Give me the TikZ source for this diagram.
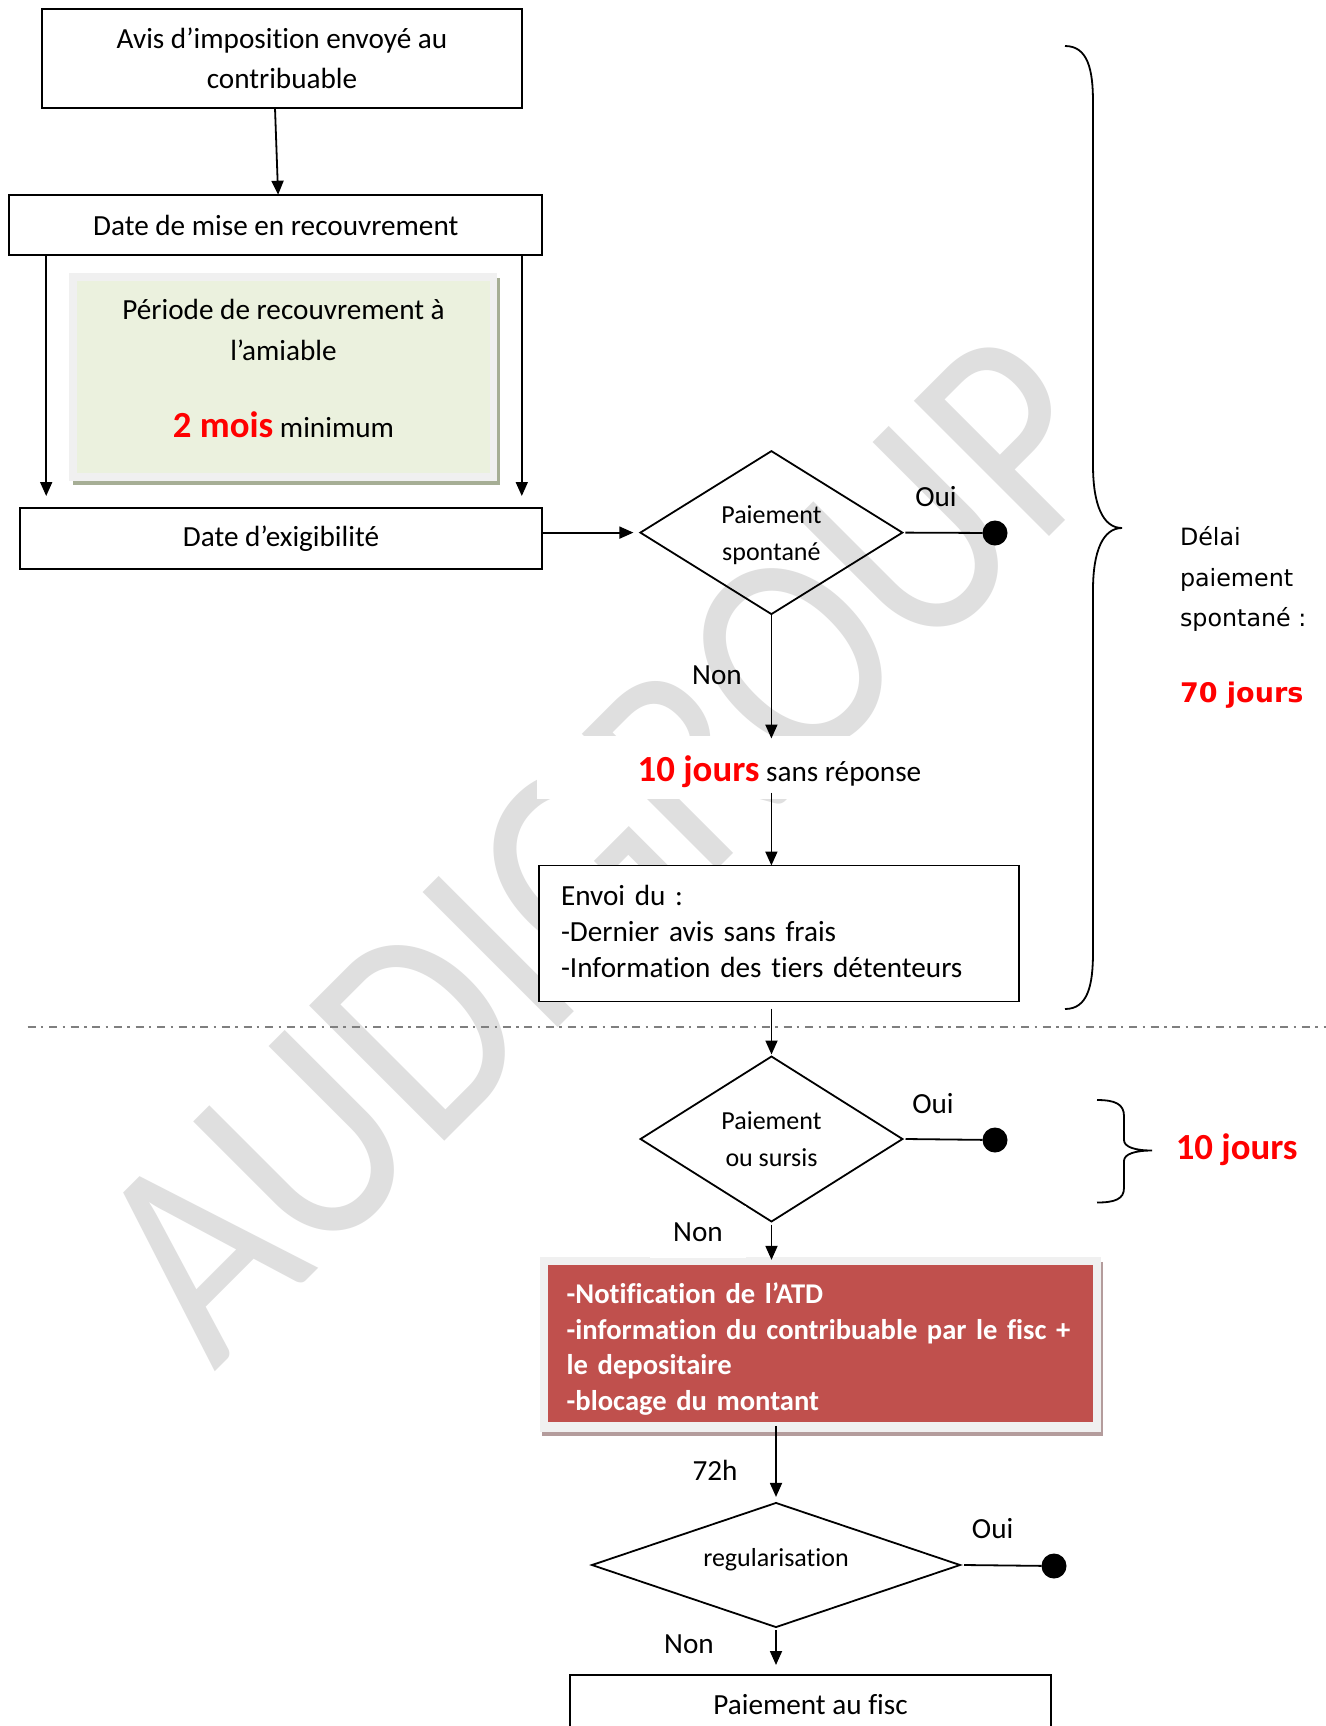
\documentclass[tikz,border=0pt]{standalone}
\usepackage{fontspec}
\setmainfont{Carlito}[Ligatures=NoCommon]
\newfontfamily\verd{DejaVu Sans}
\usetikzlibrary{arrows.meta,shapes.geometric}
\definecolor{wmgray}{HTML}{DFDFDF}
\definecolor{greenfill}{HTML}{EBF1DE}
\definecolor{greenshadow}{HTML}{A6AE95}
\definecolor{framegray}{HTML}{F0F0F0}
\definecolor{redfill}{HTML}{C0504D}
\definecolor{redshadow}{HTML}{B49C9C}
\definecolor{dashgray}{HTML}{7F7F7F}
\begin{document}
\begin{tikzpicture}[x=0.5pt,y=-0.5pt,
  every node/.style={font=\fontsize{14.6}{19.8}\selectfont, inner sep=0pt, outer sep=0pt},
  box/.style={draw, line width=0.9pt, fill=white, align=center},
  arr/.style={line width=0.9pt, -{Triangle[width=6pt,length=7pt]}},
  link/.style={line width=0.9pt},
  decision/.style={draw, line width=0.9pt, diamond, aspect=1.6, align=center,
    font=\fontsize{13}{18.5}\selectfont},
  enddot/.style={circle, fill=black, minimum size=12.5pt},
  lbl/.style={fill=white, minimum width=48pt, minimum height=26pt},
  redtxt/.style={text=red, font=\bfseries\fontsize{18.4}{22}\selectfont},
  brace/.style={line width=0.9pt}
]
\useasboundingbox (0,0) rectangle (1326,1726);
\clip (0,0) rectangle (1326,1726);
\fill[white] (0,0) rectangle (1326,1726);

% watermark
\node[anchor=base west, rotate=45, xscale=0.86, text=wmgray,
  font=\fontsize{149}{149}\selectfont] (wm) at (214,1372) {AUDIGROUP};

% top part
\node[box, minimum width=240pt, minimum height=49.5pt] (b1) at (282,58.5)
  {Avis d’imposition envoyé au\\contribuable};
\node[box, minimum width=266.5pt, minimum height=30.25pt] (b2) at (275.7,225)
  {Date de mise en recouvrement};

% green period box
\fill[greenshadow] (73,278) rectangle (500,485);
\fill[framegray] (69,273) rectangle (497,481);
\node[fill=greenfill, minimum width=206.5pt, minimum height=96pt] (amiable) at (283.5,377) {};
\node[align=center, font=\fontsize{14.6}{20.5}\selectfont] (amiabletxt) at (283.5,368)
  {Période de recouvrement à\\l’amiable\\[18pt]{\color{red}\bfseries\fontsize{18.4}{22}\selectfont 2 mois} minimum};

\node[box, minimum width=261pt, minimum height=30.5pt] (b3) at (281,538.5)
  {Date d’exigibilité};

\draw[arr] ([xshift=-3.5pt]b1.south) -- ([xshift=1.2pt]b2.north);
\coordinate (l1) at ([xshift=18.5pt]b2.south west);
\coordinate (r1) at ([xshift=-10.2pt]b2.south east);
\draw[arr] (l1) -- ([yshift=6pt]l1 |- b3.north);
\draw[arr] (r1) -- ([yshift=6pt]r1 |- b3.north);

% decision 1
\node[decision, text depth=0pt, minimum width=131pt, minimum height=81.5pt] (d1) at (771.4,532.6)
  {Paiement\\spontané};
\draw[arr] (b3.east |- d1.west) -- ([xshift=-3.5pt]d1.west);
\node[enddot] (e1) at (995,533) {};
\draw[link] ([xshift=1.5pt]d1.east) -- (e1);
\node (oui1) at (936,497) {Oui};
\node (non1) at (717,675) {Non};

\node[fill=white, minimum width=242.5pt, text height=23pt, text depth=8.5pt] (j10) at (779.5,767)
  {{\color{red}\bfseries\fontsize{18.4}{22}\selectfont 10 jours} sans réponse};
\draw[arr] (d1.south) -- ([yshift=-1.5pt]d1.south |- j10.north);

\node[box, minimum width=240pt, minimum height=68pt, text width=218pt, inner xsep=11pt,
  align=left, font=\fontsize{14.6}{18}\selectfont] (b4) at (779,933.5)
  {Envoi du :\\-Dernier avis sans frais\\-Information des tiers détenteurs\rule[-2.5pt]{0pt}{0pt}};
\draw[arr] ([yshift=3pt]d1.south |- j10.south) -- (d1.south |- b4.north);

% separator
\coordinate (sepL) at (27.5,1027);
\coordinate (sepR) at (1326,1027);
\draw[dashgray, line width=1pt, dash pattern=on 4pt off 2.7pt on 1.2pt off 2.9pt] (sepL) -- (sepR);

% decision 2
\node[decision, minimum width=131pt, minimum height=82.5pt] (d2) at (771.5,1139)
  {Paiement\\ou sursis};
\draw[arr] ([yshift=-3.5pt]d2.north |- b4.south) -- ([yshift=1pt]d2.north);
\node[enddot] (e2) at (995,1140) {};
\draw[link] ([xshift=1.5pt]d2.east) -- (e2);
\node (oui2) at (933,1104) {Oui};

% red ATD box
\fill[redshadow] (542,1262) rectangle (1103,1436);
\fill[framegray] (540,1257) rectangle (1101,1432);
\node[fill=redfill, minimum width=272.5pt, minimum height=78.25pt, text width=253.8pt,
  inner xsep=9.35pt, align=left, text=white,
  font=\bfseries\fontsize{14.3}{17.8}\selectfont] (atd) at (820.5,1343.6)
  {\rule{0pt}{15.7pt}\mbox{-Notification de l’ATD}\\\mbox{-information du contribuable par le fisc +}\\\mbox{le depositaire}\\\mbox{-blocage du montant}};
\node[lbl] (non2) at (698,1232) {Non};
\draw[arr] ([yshift=-1.5pt]d2.south) -- ([yshift=2.75pt]d2.south |- atd.north);

% decision 3
\node[decision, text depth=7.6pt, minimum width=184pt, minimum height=60pt] (d3) at (776,1565)
  {regularisation};
\draw[arr] ([yshift=-2pt]d3.north |- atd.south) -- ([yshift=3pt]d3.north);
\node (h72) at (715,1470) {72h};
\node[enddot] (e3) at (1054,1566) {};
\draw[link] ([xshift=2pt]d3.east) -- (e3);
\node (oui3) at (992.6,1528.5) {Oui};

\node[box, minimum width=240.5pt, minimum height=29.5pt] (b5) at (810.5,1704.5)
  {Paiement au fisc};
\node[lbl] (non3) at (689,1644) {Non};
\draw[arr] ([yshift=-1.5pt]d3.south) -- ([yshift=5pt]d3.south |- b5.north);

% big brace
\draw[brace] (1065,46) .. controls (1088,46) and (1093,70) .. (1093,102) -- (1093,465)
  .. controls (1093,505) and (1103,528) .. (1122,528)
  .. controls (1103,528) and (1093,551) .. (1093,590) -- (1093,952)
  .. controls (1093,985) and (1088,1009) .. (1065,1009);
\node[anchor=west, align=left, font=\verd\fontsize{11.9}{20.35}\selectfont] (delai) at (1180,579)
  {Délai\\paiement\\spontané :};
\node[anchor=west, text=red, font=\verd\bfseries\fontsize{13.5}{16}\selectfont] (j70) at (1180,695)
  {70 jours};

% small brace
\draw[brace] (1097,1100) .. controls (1115,1100) and (1124,1104) .. (1124,1116) -- (1124,1140)
  .. controls (1124,1147) and (1135,1150.5) .. (1152,1150.5)
  .. controls (1135,1150.5) and (1124,1154) .. (1124,1161) -- (1124,1188)
  .. controls (1124,1199) and (1115,1202.5) .. (1097,1202.5);
\node[redtxt] (j10b) at (1236.7,1150) {10 jours};
\end{tikzpicture}
\end{document}
